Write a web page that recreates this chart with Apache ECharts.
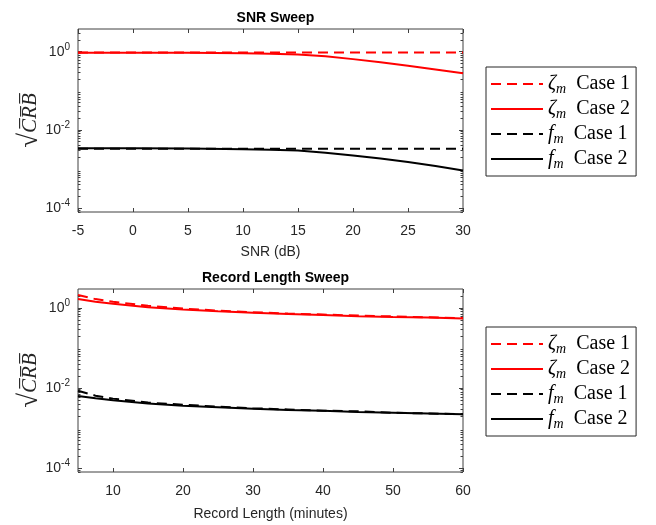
<!DOCTYPE html>
<html><head><meta charset="utf-8">
<script src="https://cdn.jsdelivr.net/npm/echarts@6/dist/echarts.min.js"></script>
<style>html,body{margin:0;padding:0;background:#fff}#c{width:656px;height:525px}</style>
</head><body><div id="c"></div>
<script>
// ---- data ----
const snrX = [-5, 0, 5, 10, 12.5, 15, 17.5, 20, 22.5, 25, 27.5, 30];
const zetaCase1Snr = [0.95, 0.95, 0.95, 0.95, 0.95, 0.95, 0.95, 0.95, 0.95, 0.95, 0.95, 0.95];
const zetaCase2Snr = [0.94, 0.937, 0.933, 0.918, 0.89, 0.85, 0.76, 0.645, 0.537, 0.437, 0.351, 0.282];
const fCase1Snr = [0.0033, 0.0033, 0.0033, 0.0033, 0.0033, 0.0033, 0.0033, 0.0033, 0.0033, 0.0033, 0.0033, 0.0033];
const fCase2Snr = [0.0034, 0.0034, 0.00335, 0.0032, 0.0031, 0.00295, 0.0026, 0.00222, 0.00185, 0.0015, 0.00119, 0.00092];

const recX = [5, 7.5, 10, 15, 20, 25, 30, 35, 40, 45, 50, 55, 60];
const zetaCase1Rec = [2.1, 1.65, 1.42, 1.12, 0.96, 0.85, 0.78, 0.72, 0.68, 0.64, 0.61, 0.58, 0.555];
const zetaCase2Rec = [1.65, 1.42, 1.27, 1.04, 0.91, 0.82, 0.75, 0.7, 0.66, 0.62, 0.59, 0.57, 0.545];
const fCase1Rec = [0.0085, 0.0064, 0.0054, 0.0043, 0.0038, 0.0034, 0.0031, 0.0029, 0.0027, 0.0026, 0.0024, 0.0023, 0.0022];
const fCase2Rec = [0.0063, 0.0055, 0.0049, 0.0041, 0.0036, 0.0033, 0.003, 0.0028, 0.0027, 0.0025, 0.0024, 0.0023, 0.0022];

const snrTicks = [-5, 0, 5, 10, 15, 20, 25, 30];
const recTicks = [10, 20, 30, 40, 50, 60];
const yMajorTicks = [1e-4, 1e-2, 1];
const seriesNames = ['zeta1', 'zeta2', 'f1', 'f2'];
const legendLabels = {
  zeta1: '{g|ζ}{s|m}{t|  Case 1}',
  zeta2: '{g|ζ}{s|m}{t|  Case 2}',
  f1: '{g|f}{s|m}{t|  Case 1}',
  f2: '{g|f}{s|m}{t|  Case 2}'
};

// ---- styling ----
const axisCol = '#404040';
const txtCol = '#262626';
const yMinTop = Math.pow(10, -4.1), yMaxTop = Math.pow(10, 0.58);
const yMinBot = Math.pow(10, -4.1), yMaxBot = Math.pow(10, 0.47);
const yMinor = [];
for (let n = -5; n <= 0; n++) for (let k = 2; k <= 9; k++) yMinor.push(k * Math.pow(10, n));

function pairs(xs, ys) { return xs.map((x, i) => [x, ys[i]]); }

const noLine = { show: false, onZero: false };

function yAxes(gridIndex, mn, mx) {
  const base = { type: 'log', gridIndex, min: mn, max: mx, logBase: 10,
    axisLine: noLine, splitLine: { show: false } };
  return [
    Object.assign({}, base, {
      position: 'left',
      axisTick: { inside: true, length: 4, lineStyle: { color: axisCol }, customValues: yMajorTicks },
      axisLabel: { customValues: yMajorTicks, margin: 8, color: txtCol,
        formatter: v => '{b|10}{s|' + Math.round(Math.log10(v)) + '}',
        rich: { b: { fontSize: 14, fontFamily: 'Liberation Sans', color: txtCol },
                s: { fontSize: 10, fontFamily: 'Liberation Sans', color: txtCol, verticalAlign: 'top', padding: [0, 0, 9, 0] } } },
      name: '{r|√}{c|C\u0305R\u0305B\u0305}', nameLocation: 'middle', nameGap: 34, nameRotate: 90,
      nameMoveOverlap: false,
      nameTextStyle: { color: txtCol, rich: {
        r: { fontFamily: 'Liberation Serif', fontSize: 27, color: txtCol, lineHeight: 28 },
        c: { fontFamily: 'Liberation Serif', fontStyle: 'italic', fontSize: 21, color: txtCol, lineHeight: 28 } } }
    }),
    Object.assign({}, base, { position: 'right',
      axisTick: { inside: true, length: 4, lineStyle: { color: axisCol }, customValues: yMajorTicks },
      axisLabel: { show: false } }),
    Object.assign({}, base, { position: 'left',
      axisTick: { inside: true, length: 2.5, lineStyle: { color: axisCol }, customValues: yMinor },
      axisLabel: { show: false } }),
    Object.assign({}, base, { position: 'right',
      axisTick: { inside: true, length: 2.5, lineStyle: { color: axisCol }, customValues: yMinor },
      axisLabel: { show: false } })
  ];
}

function xAxes(gridIndex, mn, mx, ticks, name, gap) {
  return [
    { type: 'value', gridIndex, min: mn, max: mx, position: 'bottom',
      axisLine: noLine, splitLine: { show: false },
      axisTick: { inside: true, length: 4, lineStyle: { color: axisCol }, customValues: ticks },
      axisLabel: { customValues: ticks, margin: 12, color: txtCol, fontSize: 14, fontFamily: 'Liberation Sans' },
      name, nameLocation: 'middle', nameGap: gap,
      nameTextStyle: { fontSize: 14, fontFamily: 'Liberation Sans', color: txtCol } },
    { type: 'value', gridIndex, min: mn, max: mx, position: 'top',
      axisLine: noLine, splitLine: { show: false },
      axisTick: { inside: true, length: 4, lineStyle: { color: axisCol }, customValues: ticks },
      axisLabel: { show: false } }
  ];
}

function line(name, xs, ys, color, dashed, xi, yi) {
  return { type: 'line', name, data: pairs(xs, ys), xAxisIndex: xi, yAxisIndex: yi,
    showSymbol: false, symbol: 'none', silent: true, animation: false, z: dashed ? 3 : 2,
    lineStyle: { color, width: 2, type: dashed ? [10, 6] : 'solid' },
    itemStyle: { color } };
}

function legend(top) {
  return { data: seriesNames, orient: 'vertical', left: 486, top, itemWidth: 52, itemHeight: 14, itemGap: 3,
    backgroundColor: '#fff', borderColor: '#262626', borderWidth: 1, borderRadius: 0,
    padding: [7, 6, 5, 4], selectedMode: false,
    itemStyle: { opacity: 0, borderWidth: 0 },
    formatter: n => legendLabels[n],
    textStyle: { color: '#000', rich: {
      g: { fontFamily: 'Liberation Serif', fontStyle: 'italic', fontSize: 20, lineHeight: 24, color: '#000' },
      s: { fontFamily: 'Liberation Serif', fontStyle: 'italic', fontSize: 14, lineHeight: 14, color: '#000', verticalAlign: 'bottom' },
      t: { fontFamily: 'Liberation Serif', fontSize: 20, lineHeight: 24, color: '#000' } } } };
}

const chart = echarts.init(document.getElementById('c'), null, { renderer: 'canvas' });
chart.setOption({
  animation: false,
  backgroundColor: '#fff',
  title: [
    { text: 'SNR Sweep', left: 270.5, top: 6, textAlign: 'center',
      textStyle: { fontSize: 14, fontWeight: 'bold', fontFamily: 'Liberation Sans', color: '#000' } },
    { text: 'Record Length Sweep', left: 270.5, top: 266, textAlign: 'center',
      textStyle: { fontSize: 14, fontWeight: 'bold', fontFamily: 'Liberation Sans', color: '#000' } }
  ],
  grid: [
    { left: 78, top: 29, width: 385, height: 183, show: true, borderColor: axisCol, borderWidth: 1, backgroundColor: '#fff' },
    { left: 78, top: 289, width: 385, height: 183, show: true, borderColor: axisCol, borderWidth: 1, backgroundColor: '#fff' }
  ],
  legend: [legend(67), legend(327)],
  xAxis: [].concat(xAxes(0, -5, 30, snrTicks, 'SNR (dB)', 33), xAxes(1, 5, 60, recTicks, 'Record Length (minutes)', 35)),
  yAxis: [].concat(yAxes(0, yMinTop, yMaxTop), yAxes(1, yMinBot, yMaxBot)),
  series: [
    line('zeta1', snrX, zetaCase1Snr, '#ff0000', true, 0, 0),
    line('zeta2', snrX, zetaCase2Snr, '#ff0000', false, 0, 0),
    line('f1', snrX, fCase1Snr, '#000000', true, 0, 0),
    line('f2', snrX, fCase2Snr, '#000000', false, 0, 0),
    line('zeta1', recX, zetaCase1Rec, '#ff0000', true, 2, 4),
    line('zeta2', recX, zetaCase2Rec, '#ff0000', false, 2, 4),
    line('f1', recX, fCase1Rec, '#000000', true, 2, 4),
    line('f2', recX, fCase2Rec, '#000000', false, 2, 4)
  ]
});
</script></body></html>
